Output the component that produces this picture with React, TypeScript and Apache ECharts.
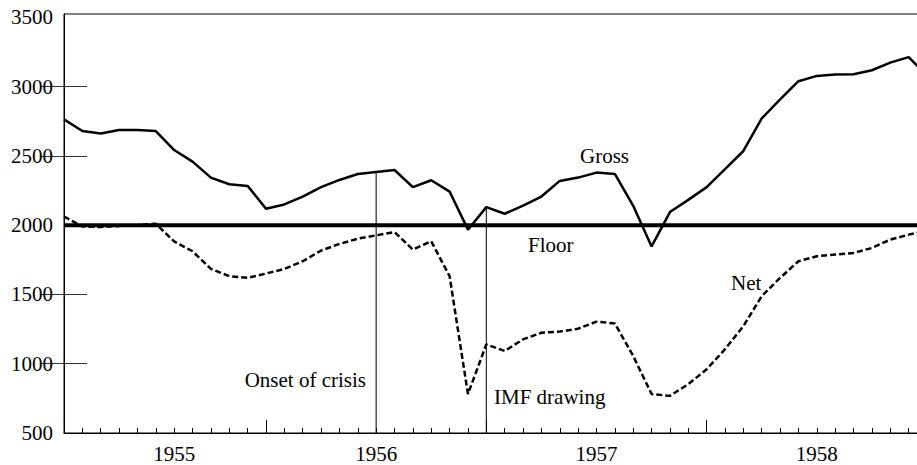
import React, { useEffect, useRef } from "react";
import * as echarts from "echarts";

// month index 0 = first month shown (Feb 1955) ... 47 = Jan 1959
const months: number[] = Array.from({ length: 48 }, (_, i) => i);

const gross: number[] = [
  2764, 2680, 2663, 2687, 2687, 2680, 2543, 2459, 2344, 2296, 2284, 2119,
  2150, 2207, 2275, 2327, 2370, 2385, 2399, 2275, 2325, 2243, 1968, 2131,
  2083, 2142, 2207, 2320, 2344, 2380, 2370, 2140, 1847, 2095, 2183, 2275,
  2405, 2536, 2771, 2908, 3040, 3078, 3088, 3090, 3119, 3174, 3214, 3080,
];

const net: number[] = [
  2063, 1991, 1987, 1995, 2000, 2011, 1883, 1812, 1685, 1632, 1620, 1651,
  1685, 1740, 1817, 1865, 1903, 1927, 1951, 1824, 1884, 1632, 781, 1140,
  1092, 1176, 1224, 1232, 1253, 1304, 1291, 1056, 781, 768, 853, 960,
  1105, 1272, 1488, 1620, 1740, 1776, 1788, 1800, 1836, 1896, 1932, 1960,
];

const floorValue = 2000;
const onsetMonth = 17;
const imfMonth = 23;

const yearLabels: string[] = ["1955", "1956", "1957", "1958"];
const yearLabelMonths: number[] = [6, 17, 29, 41];
const yearStartMonths: number[] = [11, 23, 35];

const yTickLabels: number[] = [500, 1000, 1500, 2000, 2500, 3000, 3500];
const yTickMarks: number[] = [1000, 1500, 2500, 3000];

const FONT = "Liberation Serif";
const FS = 21;

export default function App() {
  const ref = useRef<HTMLDivElement>(null);

  useEffect(() => {
    document.body.style.margin = "0";
    if (!ref.current) return;
    const chart = echarts.init(ref.current, null, { renderer: "svg" });
    const yMin = 500;
    const yMax = 3525;

    const lineBase = {
      type: "line" as const,
      symbol: "none",
      silent: true,
      xAxisIndex: 0,
      yAxisIndex: 0,
    };

    const textItem = (text: string, x: number, y: number, align = "left") => ({
      type: "text",
      x,
      y,
      silent: true,
      style: {
        text,
        fill: "#000",
        fontSize: FS,
        fontFamily: FONT,
        align,
        verticalAlign: "middle",
      },
    });

    chart.setOption({
      animation: false,
      backgroundColor: "#fff",
      textStyle: { fontFamily: FONT, fontSize: FS },
      grid: {
        left: 64,
        top: 14,
        right: 0,
        bottom: 32,
        show: true,
        borderColor: "#000",
        borderWidth: 1,
        backgroundColor: "transparent",
      },
      xAxis: [
        {
          type: "value",
          min: 0,
          max: 47,
          interval: 1,
          position: "bottom",
          splitLine: { show: false },
          axisLine: { show: true, lineStyle: { color: "#000", width: 1 } },
          axisTick: {
            show: true,
            inside: true,
            length: 5,
            lineStyle: { color: "#000", width: 1 },
          },
          axisLabel: {
            show: true,
            customValues: yearLabelMonths,
            formatter: (v: number) => {
              const i = yearLabelMonths.indexOf(v);
              return i >= 0 ? yearLabels[i] : "";
            },
            color: "#000",
            fontSize: FS,
            fontFamily: FONT,
            fontWeight: "normal",
            margin: 10,
          },
        },
        {
          type: "value",
          min: 0,
          max: 47,
          position: "bottom",
          splitLine: { show: false },
          axisLine: { show: false },
          axisLabel: { show: false },
          axisTick: {
            show: true,
            inside: true,
            length: 13,
            customValues: yearStartMonths,
            lineStyle: { color: "#000", width: 1 },
          },
        },
      ],
      yAxis: [
        {
          type: "value",
          min: yMin,
          max: yMax,
          position: "left",
          splitLine: { show: false },
          axisLine: { show: true, lineStyle: { color: "#000", width: 1 } },
          axisTick: {
            show: true,
            inside: true,
            length: 23,
            customValues: yTickMarks,
            lineStyle: { color: "#333", width: 1 },
          },
          axisLabel: {
            show: true,
            customValues: yTickLabels,
            formatter: (v: number) => String(v),
            color: "#000",
            fontSize: FS,
            fontFamily: FONT,
            fontWeight: "normal",
            margin: 11,
          },
        },
        {
          type: "value",
          min: yMin,
          max: yMax,
          position: "right",
          splitLine: { show: false },
          axisLine: { show: true, lineStyle: { color: "#000", width: 1 } },
          axisTick: {
            show: true,
            inside: true,
            length: 23,
            customValues: yTickMarks,
            lineStyle: { color: "#333", width: 1 },
          },
          axisLabel: { show: false },
        },
      ],
      series: [
        {
          ...lineBase,
          name: "Onset of crisis",
          data: [
            [onsetMonth, yMin],
            [onsetMonth, gross[onsetMonth]],
          ],
          lineStyle: { color: "#000", width: 1 },
          z: 2,
        },
        {
          ...lineBase,
          name: "IMF drawing",
          data: [
            [imfMonth, yMin],
            [imfMonth, gross[imfMonth]],
          ],
          lineStyle: { color: "#000", width: 1 },
          z: 2,
        },
        {
          ...lineBase,
          name: "Floor",
          data: [
            [months[0], floorValue],
            [months[months.length - 1], floorValue],
          ],
          lineStyle: { color: "#000", width: 4 },
          z: 3,
        },
        {
          ...lineBase,
          name: "Net",
          data: months.map((m, i) => [m, net[i]]),
          lineStyle: { color: "#000", width: 2.5, type: [6, 3] },
          z: 4,
        },
        {
          ...lineBase,
          name: "Gross",
          data: months.map((m, i) => [m, gross[i]]),
          lineStyle: { color: "#000", width: 2.5 },
          z: 5,
        },
      ],
      graphic: [
        textItem("Gross", 580, 155.5),
        textItem("Floor", 528, 244.5),
        textItem("Net", 731, 282.5),
        textItem("Onset of crisis", 366, 380, "right"),
        textItem("IMF drawing", 494, 397),
      ],
    });

    return () => {
      chart.dispose();
    };
  }, []);

  return (
    <div
      style={{
        width: 917,
        height: 465,
        overflow: "hidden",
        position: "relative",
      }}
    >
      <div ref={ref} style={{ width: 927, height: 465 }} />
    </div>
  );
}
